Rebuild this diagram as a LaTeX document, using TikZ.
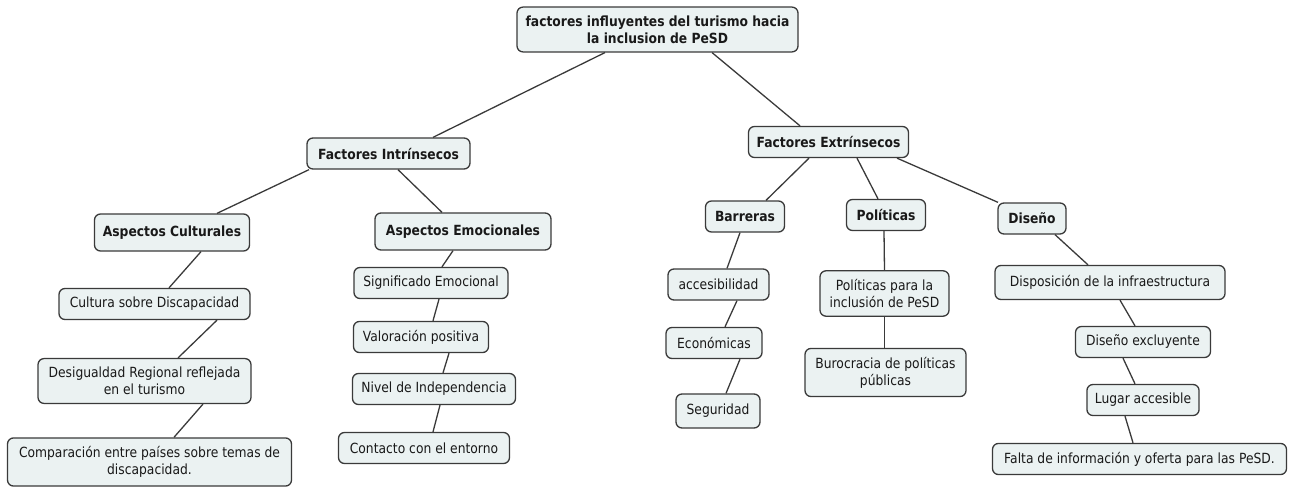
\documentclass[tikz,border=0pt]{standalone}
\usepackage{fontspec}
\setmainfont{DejaVu Sans}[FakeStretch=0.88]
\usepackage{tikz}
\usetikzlibrary{positioning}

\definecolor{boxfill}{HTML}{EBF2F2}
\definecolor{boxline}{HTML}{3A3A3A}

\begin{document}
\begin{tikzpicture}[x=1pt,y=-1pt]
      % Styles
      \tikzset{concept/.style={draw=boxline,fill=boxfill,line width=1.3pt,rounded corners=6pt,
                 inner xsep=8pt,inner ysep=8.5pt,minimum height=31pt,align=center,
                 text=black!90,font=\fontsize{14}{17}\selectfont},
               head/.style={concept,font=\fontsize{14}{17}\selectfont\bfseries},
               link/.style={draw=boxline,line width=1.3pt}}
      \useasboundingbox (0,0) rectangle (1290,487);

      % root
      \node[head,minimum width=281pt] (root) at (657.5,29.5) {factores influyentes del turismo hacia\\la inclusion de PeSD};

      % first level
      \node[head,minimum width=163pt] (intr) at (388.5,153.5) {Factores Intrínsecos};
      \node[head,minimum width=160pt] (extr) at (828.5,142) {Factores Extrínsecos};

      % intrinsic branch
      \node[head,minimum width=155pt,minimum height=37pt] (cult) at (172,232.5) {Aspectos Culturales};
      \node[head,minimum width=176pt,minimum height=37pt] (emoc) at (463,231.5) {Aspectos Emocionales};
      \node[concept,minimum width=191pt] (discap) at (154.5,304) {Cultura sobre Discapacidad};
      \node[concept,minimum width=213pt] (desig) at (144.5,381) {Desigualdad Regional reflejada\\en el turismo};
      \node[concept,minimum width=284pt] (compar) at (149.5,462) {Comparación entre países sobre temas de\\discapacidad.};
      \node[concept,minimum width=154pt] (signif) at (431,283) {Significado Emocional};
      \node[concept,minimum width=135pt] (valor) at (421,337) {Valoración positiva};
      \node[concept,minimum width=163pt] (indep) at (434,389) {Nivel de Independencia};
      \node[concept,minimum width=171pt] (entorno) at (424,448) {Contacto con el entorno};

      % extrinsic branch
      \node[head,minimum width=79pt] (barr) at (745,216.5) {Barreras};
      \node[head,minimum width=79pt] (polit) at (886,215) {Políticas};
      \node[head,minimum width=68pt] (disen) at (1032,218.5) {Diseño};
      \node[concept,minimum width=101pt] (acces) at (718.5,284.5) {accesibilidad};
      \node[concept,minimum width=96pt] (econ) at (714,343) {Económicas};
      \node[concept,minimum width=84pt,minimum height=34pt] (segur) at (718,411) {Seguridad};
      \node[concept,minimum width=129pt] (polinc) at (884.5,293.5) {Políticas para la\\inclusión de PeSD};
      \node[concept,minimum width=161pt] (buroc) at (885.5,372.5) {Burocracia de políticas\\públicas};
      \node[concept,minimum width=230pt,minimum height=34pt] (infra) at (1110,282.5) {Disposición de la infraestructura};
      \node[concept,minimum width=135pt] (exclu) at (1143,342) {Diseño excluyente};
      \node[concept,minimum width=112pt] (lugar) at (1143,400) {Lugar accesible};
      \node[concept,minimum width=294pt] (falta) at (1139.5,459) {Falta de información y oferta para las PeSD.};

      % connectors
      \draw[link] ([xshift=-52.5pt]root.south) -- ([xshift=44.5pt]intr.north);
      \draw[link] ([xshift=54.5pt]root.south) -- ([xshift=-28.5pt]extr.north);
      \draw[link] ([xshift=-79.5pt]intr.south) -- ([xshift=45pt]cult.north);
      \draw[link] ([xshift=9.5pt]intr.south) -- ([xshift=-21pt]emoc.north);
      \draw[link] ([xshift=29pt]cult.south) -- ([xshift=14.5pt]discap.north);
      \draw[link] ([xshift=62.5pt]discap.south) -- ([xshift=33.5pt]desig.north);
      \draw[link] ([xshift=58.5pt]desig.south) -- ([xshift=24.5pt]compar.north);
      \draw[link] ([xshift=-10pt]emoc.south) -- ([xshift=11pt]signif.north);
      \draw[link] ([xshift=8pt]signif.south) -- ([xshift=12pt]valor.north);
      \draw[link] ([xshift=28pt]valor.south) -- ([xshift=9pt]indep.north);
      \draw[link] ([xshift=6pt]indep.south) -- ([xshift=9pt]entorno.north);
      \draw[link] ([xshift=-19.5pt]extr.south) -- ([xshift=21pt]barr.north);
      \draw[link] ([xshift=28.5pt]extr.south) -- ([xshift=-8pt]polit.north);
      \draw[link] ([xshift=68.5pt]extr.south) -- ([xshift=-34pt]disen.north);
      \draw[link] ([xshift=-5pt]barr.south) -- ([xshift=8.5pt]acces.north);
      \draw[link] ([xshift=18.5pt]acces.south) -- ([xshift=11pt]econ.north);
      \draw[link] ([xshift=26pt]econ.south) -- ([xshift=8pt]segur.north);
      \draw[link] ([xshift=-2pt]polit.south) -- (polinc.north);
      \draw[link] (polinc.south) -- ([xshift=-1pt]buroc.north);
      \draw[link] ([xshift=23pt]disen.south) -- ([xshift=-22pt]infra.north);
      \draw[link] ([xshift=10pt]infra.south) -- ([xshift=-8pt]exclu.north);
      \draw[link] ([xshift=-20pt]exclu.south) -- ([xshift=-8pt]lugar.north);
      \draw[link] ([xshift=-18pt]lugar.south) -- ([xshift=-6.5pt]falta.north);
\end{tikzpicture}
\end{document}
